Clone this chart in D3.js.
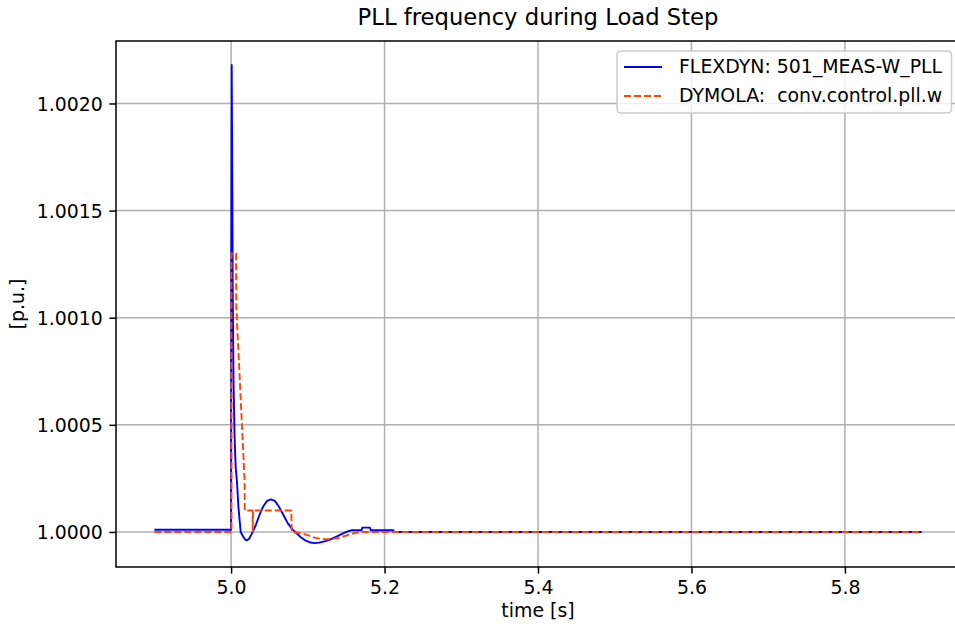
<!DOCTYPE html>
<html>
<head>
<meta charset="utf-8">
<script src="https://cdn.jsdelivr.net/npm/d3@7"></script>
<style>
  html, body { margin: 0; padding: 0; background: #fff; }
  svg { display: block; font-family: "DejaVu Sans", sans-serif; }
</style>
</head>
<body>
<svg id="chart" width="955" height="627"></svg>
<script>
// ---- data ----
const chartTitle = "PLL frequency during Load Step";
const xLabel = "time [s]";
const yLabel = "[p.u.]";
const seriesNames = ["FLEXDYN: 501_MEAS-W_PLL", "DYMOLA:  conv.control.pll.w"];
const xTicks = [5.0, 5.2, 5.4, 5.6, 5.8];
const yTicks = [1.0000, 1.0005, 1.0010, 1.0015, 1.0020];

// FLEXDYN time / value
const flexTime = [4.900, 5.000, 5.0002, 5.0008, 5.0016, 5.0022, 5.0032, 5.0045, 5.0060, 5.0075, 5.0095,
  5.0112, 5.0125, 5.0155, 5.0185, 5.0208, 5.0235, 5.0260, 5.0285, 5.0320, 5.0370, 5.0420, 5.0470,
  5.0520, 5.0570, 5.0620, 5.0680, 5.0740, 5.0800, 5.0850, 5.0900, 5.0960, 5.1020, 5.1085, 5.1150,
  5.1220, 5.1300, 5.1380, 5.1460, 5.1530, 5.1570, 5.1700, 5.1710, 5.1810, 5.1820, 5.2115, 5.2120, 5.9000];
const flexValue = [1.00001, 1.00001, 1.0012, 1.00218, 1.0016, 1.0011, 1.0007, 1.00045, 1.0003, 1.00024, 1.00012,
  1.00005, 1.00000, 0.99998, 0.999964, 0.999961, 0.999968, 0.999985, 1.000003, 1.00003, 1.00008, 1.00012, 1.000145,
  1.000152, 1.000145, 1.00012, 1.00008, 1.00004, 1.000012, 0.999995, 0.999978, 0.999962, 0.999952, 0.999948, 0.99995,
  0.999956, 0.999966, 0.999979, 0.999993, 1.000004, 1.000008, 1.000008, 1.00002, 1.00002, 1.000008, 1.000008, 1.0, 1.0];

// DYMOLA time / value
const dymTime = [4.900, 5.0005, 5.0005, 5.0065, 5.0068, 5.0176, 5.0178, 5.0280, 5.0282, 5.0285, 5.0785, 5.0790,
  5.0900, 5.1000, 5.1100, 5.1200, 5.1300, 5.1400, 5.1500, 5.1600, 5.1700, 5.9000];
const dymValue = [1.0, 1.0, 1.0013, 1.0013, 1.00105, 1.00024, 1.0001, 1.0001, 1.0, 1.0001, 1.0001, 1.0,
  0.999995, 0.999985, 0.999972, 0.999966, 0.999966, 0.999972, 0.999983, 0.999994, 1.0, 1.0];

// ---- layout ----
const svg = d3.select("#chart");
const W = 955, H = 627;
svg.append("rect").attr("width", W).attr("height", H).attr("fill", "#fff");
const pL = 116, pR = 960, pT = 41, pB = 567;
const fs = 18.9, titleFs = 22.7;

const flex = flexTime.map((t, i) => ({ t, v: flexValue[i] }));
const dym = dymTime.map((t, i) => ({ t, v: dymValue[i] }));
const all = flex.concat(dym);

const xe = d3.extent(all, d => d.t), ye = d3.extent(all, d => d.v);
const xm = (xe[1] - xe[0]) * 0.05, ym = (ye[1] - ye[0]) * 0.05;
const x = d3.scaleLinear().domain([xe[0] - xm, xe[1] + xm]).range([pL, pR]);
const y = d3.scaleLinear().domain([ye[0] - ym, ye[1] + ym]).range([pB, pT]);

// grid
const grid = svg.append("g");
grid.selectAll("line.gx").data(xTicks).join("line").attr("class", "gx")
  .attr("x1", d => x(d)).attr("x2", d => x(d)).attr("y1", pT).attr("y2", pB)
  .attr("stroke", "#b0b0b0").attr("stroke-width", 1.5);
grid.selectAll("line.gy").data(yTicks).join("line").attr("class", "gy")
  .attr("y1", d => y(d)).attr("y2", d => y(d)).attr("x1", pL).attr("x2", pR)
  .attr("stroke", "#b0b0b0").attr("stroke-width", 1.5);

// lines
const line = d3.line().x(d => x(d.t)).y(d => y(d.v));
svg.append("path").datum(flex).attr("d", line)
  .attr("fill", "none").attr("stroke", "#0000ff").attr("stroke-width", 1.9)
  .attr("stroke-linejoin", "round");
svg.append("path").datum(dym).attr("d", line)
  .attr("fill", "none").attr("stroke", "#ff4500").attr("stroke-width", 1.9)
  .attr("stroke-dasharray", "7,3");

// frame
svg.append("rect").attr("x", pL).attr("y", pT).attr("width", pR - pL).attr("height", pB - pT)
  .attr("fill", "none").attr("stroke", "#000").attr("stroke-width", 1.5);

// axes
const xAxis = d3.axisBottom(x).tickValues(xTicks).tickFormat(d3.format(".1f")).tickSize(6.6).tickPadding(6.6);
const yAxis = d3.axisLeft(y).tickValues(yTicks).tickFormat(d3.format(".4f")).tickSize(6.6).tickPadding(6.6);
const gx = svg.append("g").attr("transform", `translate(0,${pB})`).call(xAxis);
const gy = svg.append("g").attr("transform", `translate(${pL},0)`).call(yAxis);
[gx, gy].forEach(g => {
  g.select(".domain").remove();
  g.selectAll(".tick line").attr("stroke", "#000").attr("stroke-width", 1.5);
  g.selectAll(".tick text").attr("fill", "#000")
    .style("font-family", "DejaVu Sans").style("font-size", fs + "px");
});
gx.selectAll(".tick text").attr("dy", null).attr("y", 6.6 + 6.6 + 14);
gy.selectAll(".tick text").attr("dy", "0.36em");

// labels
svg.append("text").attr("x", (pL + pR) / 2).attr("y", 25)
  .attr("text-anchor", "middle").style("font-size", titleFs + "px").attr("fill", "#000").text(chartTitle);
svg.append("text").attr("x", (pL + pR) / 2).attr("y", 617)
  .attr("text-anchor", "middle").style("font-size", fs + "px").attr("fill", "#000").text(xLabel);
svg.append("text").attr("transform", `translate(24,${(pT + pB) / 2}) rotate(-90)`)
  .attr("text-anchor", "middle").style("font-size", fs + "px").attr("fill", "#000").text(yLabel);

// legend
const lg = svg.append("g");
lg.append("rect").attr("x", 617).attr("y", 51).attr("width", 334.5).attr("height", 62)
  .attr("rx", 3.8).attr("ry", 3.8)
  .attr("fill", "#fff").attr("fill-opacity", 0.8).attr("stroke", "#cccccc").attr("stroke-width", 1.5);
const legRows = [
  { name: seriesNames[0], color: "#0000ff", dash: null, ly: 67, ty: 73.3 },
  { name: seriesNames[1], color: "#ff4500", dash: "7,3", ly: 96, ty: 101.5 }
];
legRows.forEach(r => {
  lg.append("line").attr("x1", 624).attr("x2", 662).attr("y1", r.ly).attr("y2", r.ly)
    .attr("stroke", r.color).attr("stroke-width", 1.9).attr("stroke-dasharray", r.dash);
  lg.append("text").attr("x", 679).attr("y", r.ty).style("font-size", fs + "px")
    .style("white-space", "pre").attr("fill", "#000").text(r.name);
});
</script>
</body>
</html>
